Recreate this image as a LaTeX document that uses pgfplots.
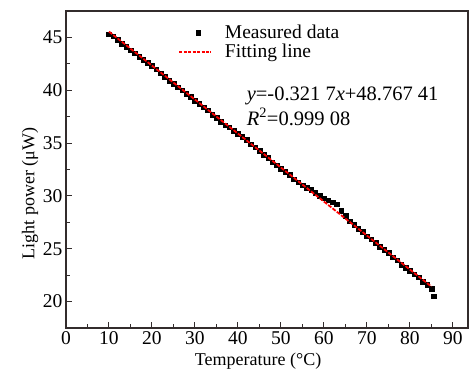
\documentclass[border=0pt]{standalone}
\usepackage{fontspec}
\setmainfont{Liberation Serif}
\usepackage{pgfplots}
\pgfplotsset{compat=1.18}
\definecolor{axc}{HTML}{332C2C}
\pgfplotsset{
  linelegend/.style={legend image code/.code={\draw[red, line width=1.5pt, dash pattern=on 3pt off 1.5pt] (0bp,0bp) -- (32bp,0bp); \path (43bp,0bp);}},
  marklegend/.style={legend image code/.code={\draw[##1] plot coordinates {(19bp,0bp)}; \path (0bp,0bp) (43bp,0bp);}},
}
\begin{document}
\begin{tikzpicture}[font=\fontsize{19.5bp}{22bp}\selectfont]
\begin{axis}[
  scale only axis, width=402bp, height=317bp,
  clip mode=individual,
  xmin=0, xmax=93.5, ymin=17.5, ymax=47.5,
  xtick={0,10,...,90}, ytick={20,25,...,45},
  minor x tick num=1, minor y tick num=1,
  tick pos=left, tick align=inside,
  major tick length=6bp, minor tick length=4bp,
  axis line style={axc, line width=1.1pt},
  every tick/.style={axc, line width=1pt},
  /pgf/number format/assume math mode=true,
  tick label style={font=\fontsize{19.5bp}{22bp}\selectfont},
  label style={font=\fontsize{18bp}{20bp}\selectfont},
  xlabel={Temperature (\textdegree C)},
  ylabel={Light power (μW)},
  xlabel style={at={(axis description cs:0.478,0)}, anchor=north, yshift=-21bp},
  ylabel style={at={(ticklabel cs:0.425)}, yshift=-2bp},
  legend style={draw=none, fill=none, at={(0.279,0.962)}, anchor=north west,
    font=\fontsize{19.5bp}{22bp}\selectfont, row sep=0bp, inner sep=0pt},
  legend cell align=left,
]
\addplot[only marks, mark=square*, mark size=2.3bp, black, mark options={fill=black}, marklegend] coordinates {
(10,45.3)(11,45.1)(12,44.8)(13,44.4)(14,44.1)(15,43.8)(16,43.5)(17,43.2)(18,42.9)(19,42.6)
(20,42.3)(21,42.0)(22,41.6)(23,41.3)(24,40.9)(25,40.6)(26,40.3)(27,40.0)(28,39.7)(29,39.4)
(30,39.0)(31,38.7)(32,38.4)(33,38.1)(34,37.7)(35,37.4)(36,37.0)(37,36.7)(38,36.5)(39,36.2)
(40,35.9)(41,35.6)(42,35.3)(43,34.9)(44,34.6)(45,34.3)(46,33.9)(47,33.6)(48,33.2)(49,32.9)
(50,32.6)(51,32.3)(52,32.0)(53,31.6)(54,31.3)(55,31.0)(56,30.8)(57,30.6)(58,30.3)(59,30.0)
(60,29.8)(61,29.6)(62,29.4)(63,29.2)(64,28.6)(65,28.1)(66,27.6)(67,27.3)(68,26.9)(69,26.6)
(70,26.2)(71,25.9)(72,25.6)(73,25.2)(74,24.9)(75,24.6)(76,24.2)(77,23.9)(78,23.5)(79,23.2)
(80,22.9)(81,22.6)(82,22.3)(83,21.9)(84,21.6)(85,21.2)(85.5,20.5)
};
\addlegendentry{Measured data}
\addplot[red, line width=1.8pt, dash pattern=on 4pt off 1.5pt, linelegend] coordinates {(10,45.55)(85,21.42)};
\addlegendentry{Fitting line}
\node[anchor=west, inner sep=0pt, font=\fontsize{20.5bp}{22bp}\selectfont] at (axis cs:42,39.43) {\textit{y}=-0.321\ 7\textit{x}+48.767\ 41};
\node[anchor=west, inner sep=0pt, font=\fontsize{20.5bp}{22bp}\selectfont] at (axis cs:42,37.5) {\textit{R}\textsuperscript{2}=0.999\ 08};
\end{axis}
\pgfresetboundingbox
\path ([shift={(-66bp,-46bp)}]current axis.south west) rectangle ([shift={(2bp,11bp)}]current axis.north east);
\end{tikzpicture}
\end{document}
